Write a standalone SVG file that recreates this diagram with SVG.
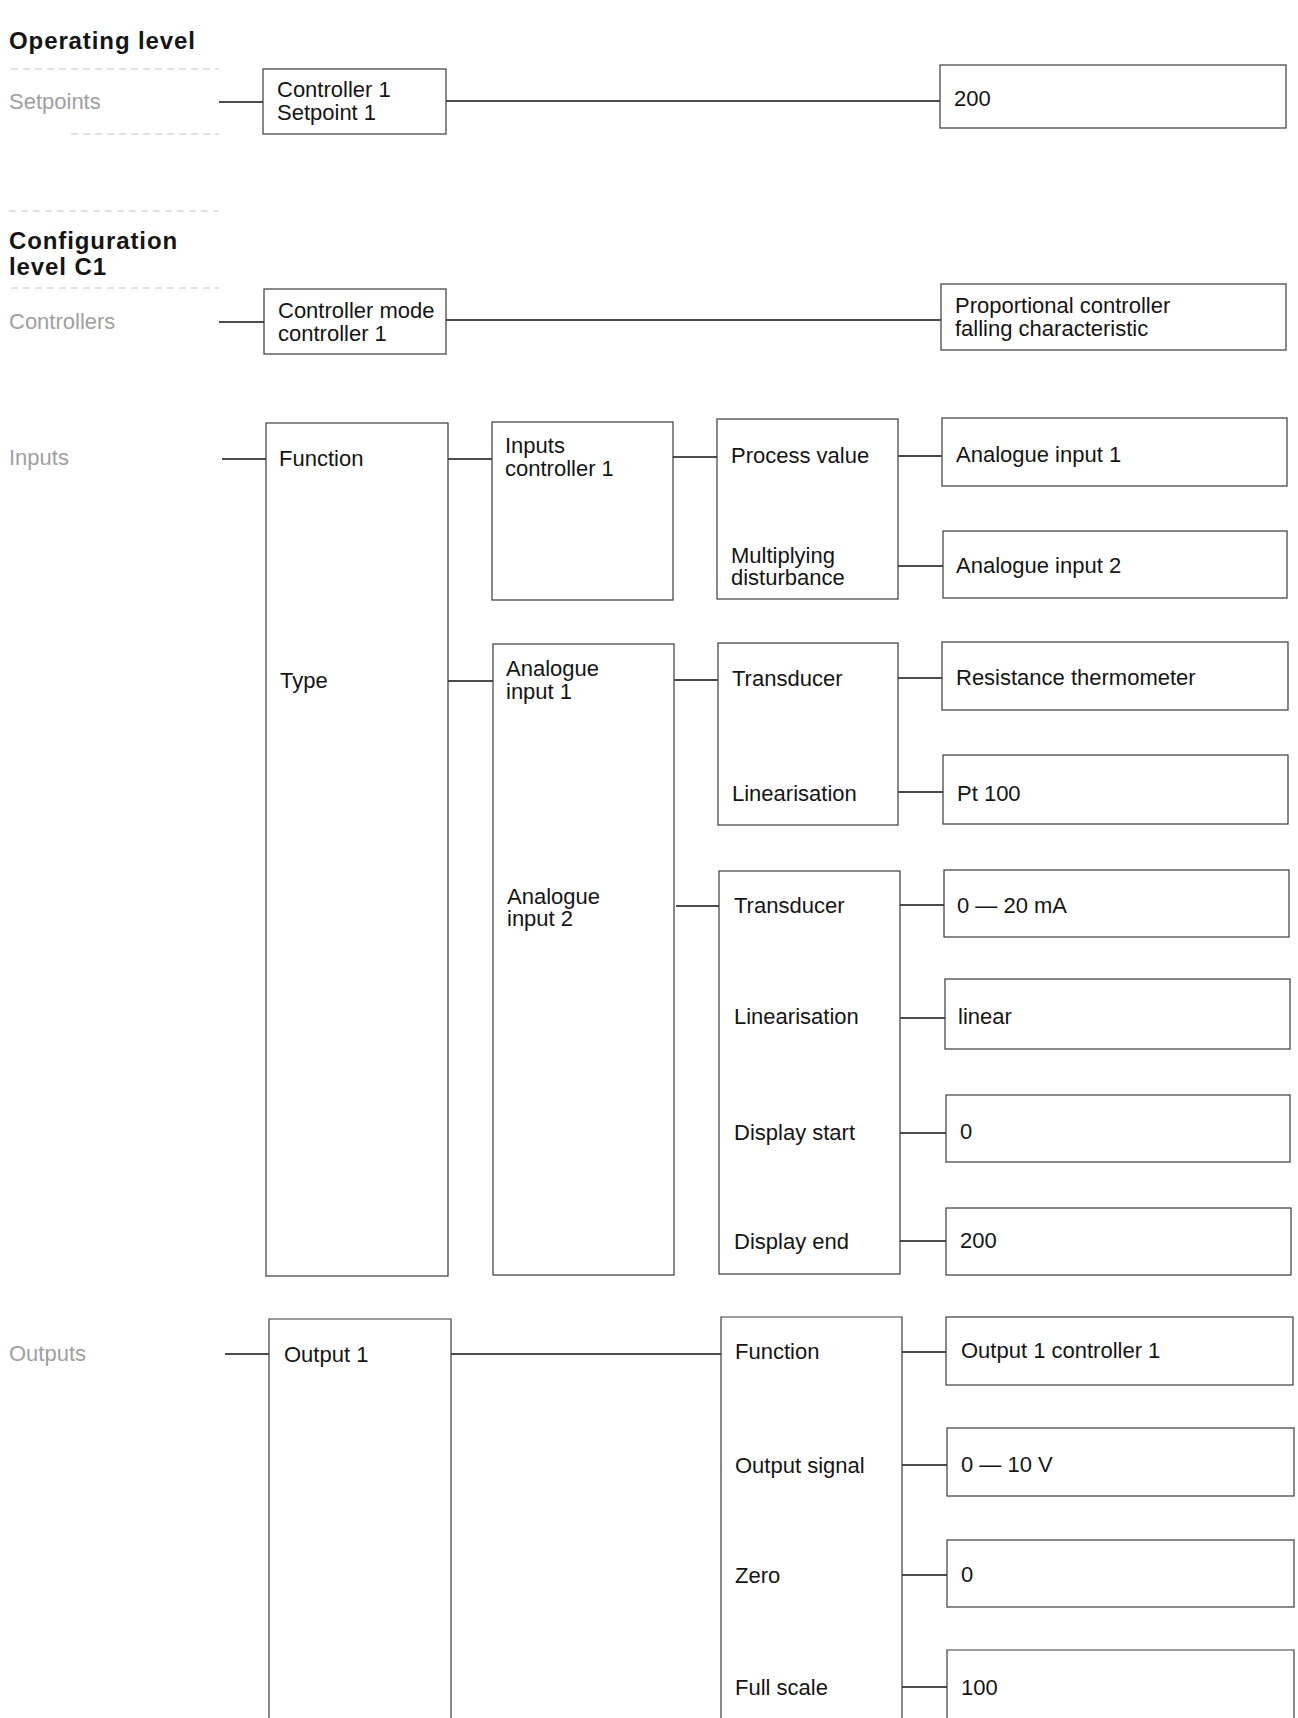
<svg xmlns="http://www.w3.org/2000/svg" width="1298" height="1718" viewBox="0 0 1298 1718">
<style>
  text { font-family: "Liberation Sans", Arial, Helvetica, sans-serif; font-size: 22px; fill: #151515; }
  .h { font-weight: bold; font-size: 24px; letter-spacing: 0.9px; }
  .faint { fill: #a0a0a0; }
  .box { fill: none; stroke: #3a3a3a; stroke-width: 1.2; }
  .sep { fill: none; stroke: #c4c4c4; stroke-width: 1; stroke-dasharray: 7 5; }
  .con { fill: none; stroke: #111; stroke-width: 1.7; }
</style>
<rect width="1298" height="1718" fill="#fff"/>

<g id="section-labels">
  <text class="h" x="9" y="49">Operating level</text>
  <text class="h" x="9" y="249">Configuration</text>
  <text class="h" x="9" y="275">level C1</text>
  <text class="faint" x="9" y="109">Setpoints</text>
  <text class="faint" x="9" y="329">Controllers</text>
  <text class="faint" x="9" y="465">Inputs</text>
  <text class="faint" x="9" y="1361">Outputs</text>
  <line class="sep" x1="11" y1="69" x2="219" y2="69"/>
  <line class="sep" x1="71" y1="134" x2="219" y2="134"/>
  <line class="sep" x1="9" y1="211" x2="219" y2="211"/>
  <line class="sep" x1="11" y1="288" x2="219" y2="288"/>
</g>

<g id="connectors">
  <line class="con" x1="219" y1="102" x2="263" y2="102"/>
  <line class="con" x1="446" y1="101" x2="940" y2="101"/>
  <line class="con" x1="219" y1="322" x2="264" y2="322"/>
  <line class="con" x1="446" y1="320" x2="941" y2="320"/>
  <line class="con" x1="222" y1="459" x2="266" y2="459"/>
  <line class="con" x1="448" y1="459" x2="492" y2="459"/>
  <line class="con" x1="448" y1="681" x2="493" y2="681"/>
  <line class="con" x1="673" y1="457" x2="717" y2="457"/>
  <line class="con" x1="898" y1="456" x2="942" y2="456"/>
  <line class="con" x1="898" y1="566" x2="943" y2="566"/>
  <line class="con" x1="674" y1="680" x2="718" y2="680"/>
  <line class="con" x1="898" y1="678" x2="942" y2="678"/>
  <line class="con" x1="898" y1="792" x2="943" y2="792"/>
  <line class="con" x1="676" y1="906" x2="719" y2="906"/>
  <line class="con" x1="900" y1="905" x2="944" y2="905"/>
  <line class="con" x1="900" y1="1018" x2="945" y2="1018"/>
  <line class="con" x1="900" y1="1133" x2="946" y2="1133"/>
  <line class="con" x1="900" y1="1241" x2="946" y2="1241"/>
  <line class="con" x1="225" y1="1354" x2="269" y2="1354"/>
  <line class="con" x1="451" y1="1354" x2="721" y2="1354"/>
  <line class="con" x1="902" y1="1352" x2="946" y2="1352"/>
  <line class="con" x1="902" y1="1465" x2="947" y2="1465"/>
  <line class="con" x1="902" y1="1575" x2="947" y2="1575"/>
  <line class="con" x1="902" y1="1687" x2="947" y2="1687"/>
</g>

<g id="node-setpoint">
  <rect class="box" x="263" y="69" width="183" height="65"/>
  <text x="277" y="97">Controller 1</text>
  <text x="277" y="120">Setpoint 1</text>
</g>
<g id="node-setpoint-value">
  <rect class="box" x="940" y="65" width="346" height="63"/>
  <text x="954" y="106">200</text>
</g>

<g id="node-controller-mode">
  <rect class="box" x="264" y="289" width="182" height="65"/>
  <text x="278" y="318">Controller mode</text>
  <text x="278" y="341">controller 1</text>
</g>
<g id="node-controller-mode-value">
  <rect class="box" x="941" y="284" width="345" height="66"/>
  <text x="955" y="313">Proportional controller</text>
  <text x="955" y="336">falling characteristic</text>
</g>

<g id="node-inputs">
  <rect class="box" x="266" y="423" width="182" height="853"/>
  <text x="279" y="466">Function</text>
  <text x="280" y="688">Type</text>
</g>
<g id="node-inputs-controller">
  <rect class="box" x="492" y="422" width="181" height="178"/>
  <text x="505" y="453">Inputs</text>
  <text x="505" y="476">controller 1</text>
</g>
<g id="node-process">
  <rect class="box" x="717" y="419" width="181" height="180"/>
  <text x="731" y="463">Process value</text>
  <text x="731" y="563">Multiplying</text>
  <text x="731" y="585">disturbance</text>
</g>
<g id="node-pv-value">
  <rect class="box" x="942" y="418" width="345" height="68"/>
  <text x="956" y="462">Analogue input 1</text>
</g>
<g id="node-md-value">
  <rect class="box" x="943" y="531" width="344" height="67"/>
  <text x="956" y="573">Analogue input 2</text>
</g>

<g id="node-analogue-inputs">
  <rect class="box" x="493" y="644" width="181" height="631"/>
  <text x="506" y="676">Analogue</text>
  <text x="506" y="699">input 1</text>
  <text x="507" y="904">Analogue</text>
  <text x="507" y="926">input 2</text>
</g>
<g id="node-ai1">
  <rect class="box" x="718" y="643" width="180" height="182"/>
  <text x="732" y="686">Transducer</text>
  <text x="732" y="801">Linearisation</text>
</g>
<g id="node-ai1-transducer">
  <rect class="box" x="942" y="642" width="346" height="68"/>
  <text x="956" y="685">Resistance thermometer</text>
</g>
<g id="node-ai1-linearisation">
  <rect class="box" x="943" y="755" width="345" height="69"/>
  <text x="957" y="801">Pt 100</text>
</g>

<g id="node-ai2">
  <rect class="box" x="719" y="871" width="181" height="403"/>
  <text x="734" y="913">Transducer</text>
  <text x="734" y="1024">Linearisation</text>
  <text x="734" y="1140">Display start</text>
  <text x="734" y="1249">Display end</text>
</g>
<g id="node-ai2-transducer">
  <rect class="box" x="944" y="870" width="345" height="67"/>
  <text x="957" y="913">0 — 20 mA</text>
</g>
<g id="node-ai2-linearisation">
  <rect class="box" x="945" y="979" width="345" height="70"/>
  <text x="958" y="1024">linear</text>
</g>
<g id="node-ai2-start">
  <rect class="box" x="946" y="1095" width="344" height="67"/>
  <text x="960" y="1139">0</text>
</g>
<g id="node-ai2-end">
  <rect class="box" x="946" y="1208" width="345" height="67"/>
  <text x="960" y="1248">200</text>
</g>

<g id="node-output1">
  <path class="box" d="M269,1725 V1319 H451 V1725"/>
  <text x="284" y="1362">Output 1</text>
</g>
<g id="node-output1-params">
  <path class="box" d="M721,1725 V1317 H902 V1725"/>
  <text x="735" y="1359">Function</text>
  <text x="735" y="1473">Output signal</text>
  <text x="735" y="1583">Zero</text>
  <text x="735" y="1695">Full scale</text>
</g>
<g id="node-out-function">
  <rect class="box" x="946" y="1317" width="347" height="68"/>
  <text x="961" y="1358">Output 1 controller 1</text>
</g>
<g id="node-out-signal">
  <rect class="box" x="947" y="1428" width="347" height="68"/>
  <text x="961" y="1472">0 — 10 V</text>
</g>
<g id="node-out-zero">
  <rect class="box" x="947" y="1540" width="347" height="67"/>
  <text x="961" y="1582">0</text>
</g>
<g id="node-out-fullscale">
  <path class="box" d="M947,1725 V1650 H1294 V1725"/>
  <text x="961" y="1695">100</text>
</g>
</svg>
